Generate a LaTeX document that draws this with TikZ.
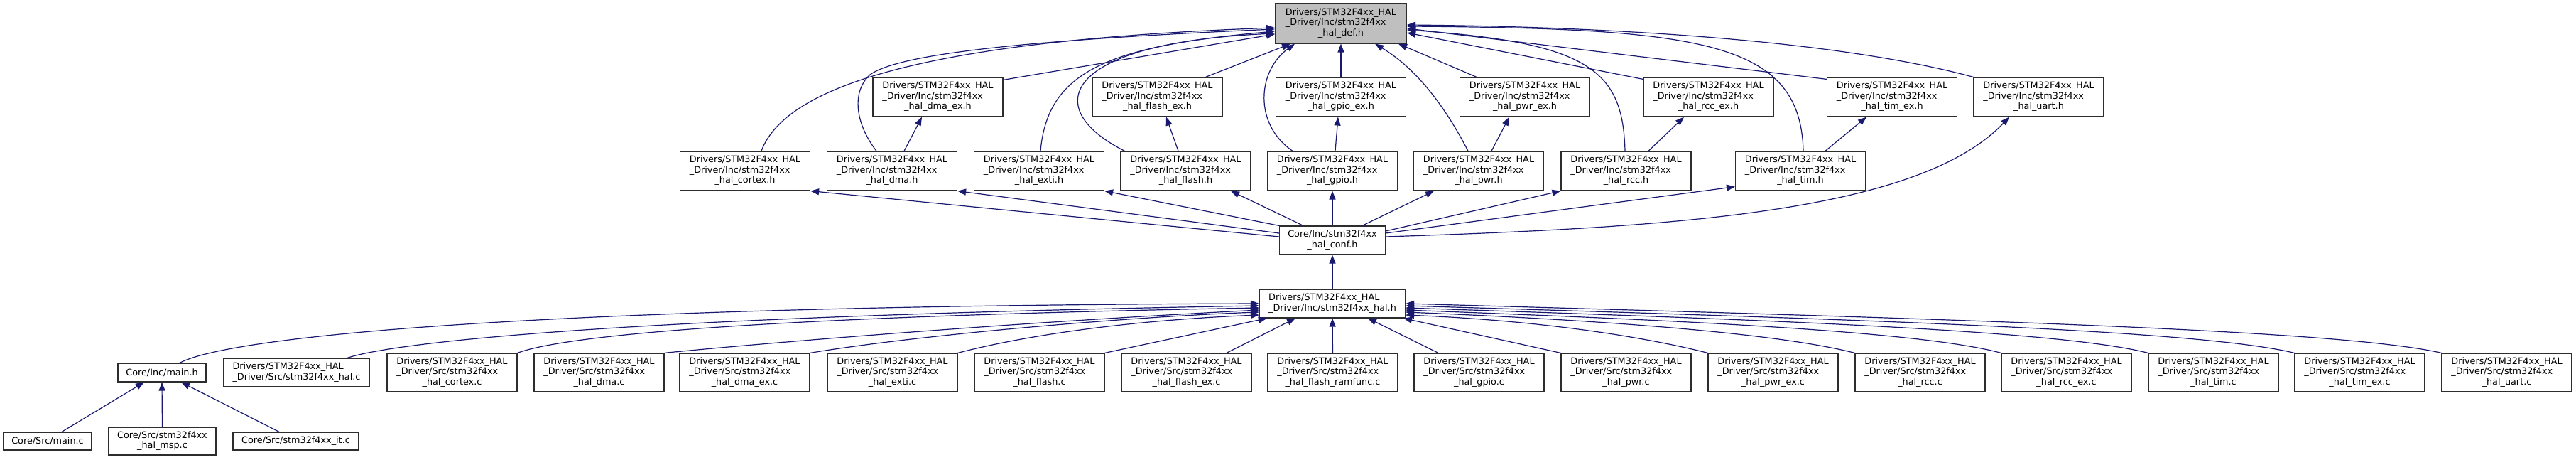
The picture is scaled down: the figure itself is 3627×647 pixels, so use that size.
\documentclass[tikz,border=0pt]{standalone}
\usepackage{fontspec}
\setmainfont{DejaVu Sans}
\usetikzlibrary{arrows.meta}
\definecolor{edgeblue}{RGB}{25,25,112}
\definecolor{boxline}{RGB}{45,45,45}
\newcommand\txtthree[3]{\begin{tabular}{@{}l@{}}#1\\#2\\\multicolumn{1}{@{}c@{}}{#3}\end{tabular}}
\newcommand\txttwo[2]{\begin{tabular}{@{}l@{}}#1\\\multicolumn{1}{@{}c@{}}{#2}\end{tabular}}
\newcommand\incf[1]{\txtthree{Drivers/STM32F4xx\_HAL}{\_Driver/Inc/stm32f4xx}{\_hal\_#1}}
\newcommand\srcf[1]{\txtthree{Drivers/STM32F4xx\_HAL}{\_Driver/Src/stm32f4xx}{\_hal\_#1}}
\tikzset{
 box/.style={draw=boxline, line width=1.2pt, fill=white, inner sep=0pt,
   font=\fontsize{12.8}{14.5}\selectfont, minimum width=183pt, minimum height=55pt},
 edge/.style={draw=edgeblue, line width=1.2pt, -{Triangle[length=12pt,width=9pt]}}
}
\begin{document}
\begin{tikzpicture}[x=1pt,y=-1pt]
\useasboundingbox (0,0) rectangle (3627,647);
% top
\node[box, fill=gray!50, minimum width=185pt, minimum height=56pt] (def) at (1888,33) {\incf{def.h}};
% row 1
\node[box] (dmaex)   at (1320.5,136.5) {\incf{dma\_ex.h}};
\node[box] (flashex) at (1629.5,136.5) {\incf{flash\_ex.h}};
\node[box] (gpioex)  at (1888,136.5)   {\incf{gpio\_ex.h}};
\node[box] (pwrex)   at (2147,136.5)   {\incf{pwr\_ex.h}};
\node[box] (rccex)   at (2405.5,136.5) {\incf{rcc\_ex.h}};
\node[box] (timex)   at (2664,136.5)   {\incf{tim\_ex.h}};
\node[box] (uart)    at (2870.5,136.5) {\incf{uart.h}};
% row 2
\node[box] (cortex) at (1049,240.5)   {\incf{cortex.h}};
\node[box] (dma)    at (1256,240.5)   {\incf{dma.h}};
\node[box] (exti)   at (1463,240.5)   {\incf{exti.h}};
\node[box] (flash)  at (1669.5,240.5) {\incf{flash.h}};
\node[box] (gpio)   at (1876,240.5)   {\incf{gpio.h}};
\node[box] (pwr)    at (2082,240.5)   {\incf{pwr.h}};
\node[box] (rcc)    at (2289.5,240.5) {\incf{rcc.h}};
\node[box] (tim)    at (2535,240.5)   {\incf{tim.h}};
% conf and hal.h
\node[box, minimum width=149pt, minimum height=40pt] (conf) at (1876,338) {\txttwo{Core/Inc/stm32f4xx}{\_hal\_conf.h}};
\node[box, minimum width=205pt, minimum height=40pt] (halh) at (1876,427) {\txttwo{Drivers/STM32F4xx\_HAL}{\_Driver/Inc/stm32f4xx\_hal.h}};
% bottom row
\node[box, minimum width=124pt, minimum height=26pt] (mainh) at (228,524) {Core/Inc/main.h};
\node[box, minimum width=205pt, minimum height=40pt] (halc) at (417.5,524) {\txttwo{Drivers/STM32F4xx\_HAL}{\_Driver/Src/stm32f4xx\_hal.c}};
\node[box, minimum height=54pt] (cortexc)  at (636.5,524)  {\srcf{cortex.c}};
\node[box, minimum height=54pt] (dmac)     at (843.5,524)  {\srcf{dma.c}};
\node[box, minimum height=54pt] (dmaexc)   at (1048.5,524) {\srcf{dma\_ex.c}};
\node[box, minimum height=54pt] (extic)    at (1256.5,524) {\srcf{exti.c}};
\node[box, minimum height=54pt] (flashc)   at (1463.5,524) {\srcf{flash.c}};
\node[box, minimum height=54pt] (flashexc) at (1670.5,524) {\srcf{flash\_ex.c}};
\node[box, minimum height=54pt] (ramfuncc) at (1876.5,524) {\srcf{flash\_ramfunc.c}};
\node[box, minimum height=54pt] (gpioc)    at (2082.5,524) {\srcf{gpio.c}};
\node[box, minimum height=54pt] (pwrc)     at (2289.5,524) {\srcf{pwr.c}};
\node[box, minimum height=54pt] (pwrexc)   at (2496.5,524) {\srcf{pwr\_ex.c}};
\node[box, minimum height=54pt] (rccc)     at (2703.5,524) {\srcf{rcc.c}};
\node[box, minimum height=54pt] (rccexc)   at (2909.5,524) {\srcf{rcc\_ex.c}};
\node[box, minimum height=54pt] (timc)     at (3116.5,524) {\srcf{tim.c}};
\node[box, minimum height=54pt] (timexc)   at (3322.5,524) {\srcf{tim\_ex.c}};
\node[box, minimum height=54pt] (uartc)    at (3529.5,524) {\srcf{uart.c}};
% lowest row
\node[box, minimum width=124pt, minimum height=25pt] (mainc) at (67,620.5) {Core/Src/main.c};
\node[box, minimum width=151pt, minimum height=39pt] (msp) at (228.5,620.5) {\txttwo{Core/Src/stm32f4xx}{\_hal\_msp.c}};
\node[box, minimum width=177pt, minimum height=25pt] (itc) at (416.5,620.5) {Core/Src/stm32f4xx\_it.c};

% edges into def.h
\draw[edge] ([xshift=23pt]cortex.north) .. controls (1110,110) and (1350,55) .. ([yshift=-6pt]def.west);
\draw[edge] ([xshift=-22pt]dma.north) .. controls (1205,175) and (1198,130) .. (1225,105) .. controls (1260,80) and (1400,58) .. ([yshift=-8pt]def.west);
\draw[edge] ([yshift=-4pt]dmaex.north east) -- ([yshift=-15pt]def.west);
\draw[edge] ([xshift=2pt]exti.north) .. controls (1475,100) and (1560,65) .. ([yshift=-11pt]def.west);
\draw[edge] ([xshift=-86pt]flash.north) .. controls (1460,150) and (1500,60) .. ([yshift=-14pt]def.west);
\draw[edge] ([xshift=68pt]flashex.north) -- ([xshift=-71pt]def.south);
\draw[edge] ([xshift=-56pt]gpio.north) .. controls (1765,175) and (1770,100) .. ([xshift=-65pt]def.south);
\draw[edge] (gpioex.north) -- (def.south);
\draw[edge] ([xshift=-15pt]pwr.north) .. controls (2040,160) and (2000,100) .. ([xshift=48pt]def.south);
\draw[edge] ([xshift=-68pt]pwrex.north) -- ([xshift=81pt]def.south);
\draw[edge] ([yshift=-3pt]rccex.north west) -- ([yshift=-13pt]def.east);
\draw[edge] ([xshift=-1.5pt]rcc.north) .. controls (2285,100) and (2240,60) .. ([yshift=-9pt]def.east);
\draw[edge] ([yshift=-3pt]timex.north west) -- ([yshift=-7pt]def.east);
\draw[edge] ([xshift=4pt]tim.north) .. controls (2535,60) and (2400,40) .. ([yshift=-4pt]def.east);
\draw[edge] (uart.north west) .. controls (2600,60) and (2300,38) .. ([yshift=-2pt]def.east);
% row 2 -> row 1
\draw[edge] ([xshift=17pt]dma.north) -- ([xshift=-22.5pt]dmaex.south);
\draw[edge] ([xshift=-10.5pt]flash.north) -- ([xshift=12.5pt]flashex.south);
\draw[edge] ([xshift=4pt]gpio.north) -- ([xshift=-4pt]gpioex.south);
\draw[edge] ([xshift=18pt]pwr.north) -- ([xshift=-22pt]pwrex.south);
\draw[edge] ([xshift=31.5pt]rcc.north) -- ([xshift=-34.5pt]rccex.south);
\draw[edge] ([xshift=35pt]tim.north) -- ([xshift=-36pt]timex.south);
% conf -> row 2
\draw[edge] ([yshift=5pt]conf.west) -- (cortex.south east);
\draw[edge] ([yshift=10pt]conf.west) -- (dma.south east);
\draw[edge] (conf.north west) -- (exti.south east);
\draw[edge] ([xshift=-41pt]conf.north) -- ([xshift=63.5pt]flash.south);
\draw[edge] (conf.north) -- (gpio.south);
\draw[edge] ([xshift=42pt]conf.north) -- ([xshift=-63pt]pwr.south);
\draw[edge] ([yshift=13pt]conf.east) -- (rcc.south west);
\draw[edge] ([yshift=10pt]conf.east) -- ([yshift=6pt]tim.south west);
\draw[edge] ([yshift=5pt]conf.east) .. controls (2350,320) and (2700,300) .. ([xshift=-41.5pt]uart.south);
% hal.h -> conf
\draw[edge] (halh.north) -- (conf.south);
% into hal.h
\draw[edge] ([xshift=25pt]mainh.north) .. controls (330,470) and (800,430) .. (halh.west);
\draw[edge] ([xshift=71.5pt]halc.north) .. controls (560,480) and (900,445) .. ([yshift=-3pt]halh.west);
\draw[edge] (cortexc.north east) .. controls (800,470) and (1100,445) .. ([yshift=-6pt]halh.west);
\draw[edge] (dmac.north east) .. controls (1050,485) and (1400,455) .. ([yshift=-9pt]halh.west);
\draw[edge] (dmaexc.north east) .. controls (1300,470) and (1600,445) .. ([yshift=-12pt]halh.west);
\draw[edge] (extic.north east) .. controls (1450,470) and (1600,450) .. ([yshift=-16pt]halh.west);
\draw[edge] (flashc.north east) -- ([xshift=11pt]halh.south west);
\draw[edge] ([xshift=56.5pt]flashexc.north) -- ([xshift=-52pt]halh.south);
\draw[edge] (ramfuncc.north) -- (halh.south);
\draw[edge] ([xshift=-57.5pt]gpioc.north) -- ([xshift=50pt]halh.south);
\draw[edge] (pwrc.north west) -- ([xshift=-3pt]halh.south east);
\draw[edge] (pwrexc.north west) .. controls (2300,470) and (2150,450) .. ([yshift=-16pt]halh.east);
\draw[edge] (rccc.north west) .. controls (2500,468) and (2250,450) .. ([yshift=-12pt]halh.east);
\draw[edge] (rccexc.north west) .. controls (2700,465) and (2350,450) .. ([yshift=-9pt]halh.east);
\draw[edge] (timc.north west) .. controls (2900,465) and (2500,450) .. ([yshift=-6pt]halh.east);
\draw[edge] (timexc.north west) .. controls (3100,465) and (2650,450) .. ([yshift=-3pt]halh.east);
\draw[edge] (uartc.north west) .. controls (3300,465) and (2800,450) .. (halh.east);
% into main.h
\draw[edge] ([xshift=20pt]mainc.north) -- ([xshift=-25pt]mainh.south);
\draw[edge] (msp.north) -- (mainh.south);
\draw[edge] ([xshift=-23.5pt]itc.north) -- ([xshift=27pt]mainh.south);
\end{tikzpicture}
\end{document}
